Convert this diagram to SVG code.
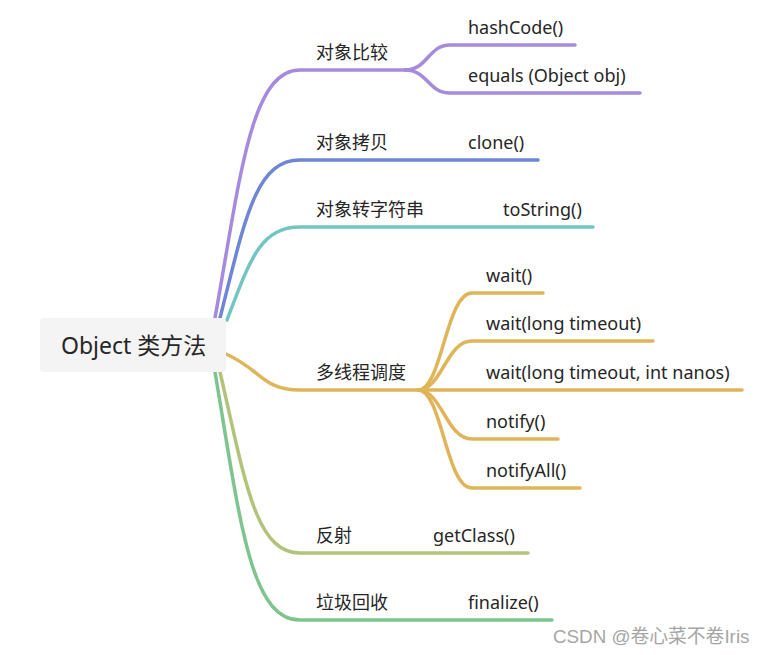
<svg xmlns="http://www.w3.org/2000/svg" width="766" height="655" viewBox="0 0 766 655">
<style>
.t{font-family:"Noto Sans","Noto Sans CJK SC",sans-serif;font-size:18px;fill:#262626}
.r{font-family:"Noto Sans","Noto Sans CJK SC",sans-serif;font-size:23px;fill:#262626}
.c{fill:none;stroke-width:3.5;stroke-linecap:round}
.p{stroke:#a68ade}.b{stroke:#6e86d6}.tl{stroke:#72c6c2}.g{stroke:#e0b55a}.o{stroke:#b3c47a}.gr{stroke:#7dc48e}
.w{font-family:"Liberation Sans","Noto Sans CJK SC",sans-serif;font-size:18.8px;fill:#a6a6a6}
</style>
<rect width="766" height="655" fill="#fff"/>
<g id="connectors">
<path class="c p" d="M215,318 C240,180 250,70 300,70 L405,70"/>
<path class="c p" d="M405,70 C428,70 428,45 450,45 L575,45"/>
<path class="c p" d="M405,70 C428,70 428,93 450,93 L640,93"/>
<path class="c b" d="M220,318 C245,220 255,160 300,160 L538,160"/>
<path class="c tl" d="M227,320 C250,260 260,227 300,227 L593,227"/>
<path class="c g" d="M226,354 C262,370 262,390 300,390 L742,390"/>
<path class="c g" d="M418,390 C442,390 446,293 472,293 L543,293"/>
<path class="c g" d="M418,390 C442,390 446,341 472,341 L653,341"/>
<path class="c g" d="M418,390 C442,390 446,439 472,439 L558,439"/>
<path class="c g" d="M418,390 C442,390 446,488 472,488 L580,488"/>
<path class="c o" d="M220,372 C245,480 255,553 300,553 L528,553"/>
<path class="c gr" d="M215,372 C240,520 250,620 300,620 L552,620"/>
</g>
<g id="root">
<rect x="40" y="318" width="186" height="54" rx="4" fill="#f4f4f4"/>
<text class="r" x="61" y="354">Object 类方法</text>
</g>
<g id="n-compare"><text class="t" x="316" y="59">对象比较</text></g>
<g id="n-hashcode"><text class="t" x="468" y="34">hashCode()</text></g>
<g id="n-equals"><text class="t" x="468" y="82">equals (Object obj)</text></g>
<g id="n-copy"><text class="t" x="316" y="149">对象拷贝</text></g>
<g id="n-clone"><text class="t" x="468" y="149">clone()</text></g>
<g id="n-tostr"><text class="t" x="316" y="216">对象转字符串</text></g>
<g id="n-tostring"><text class="t" x="503" y="216">toString()</text></g>
<g id="n-thread"><text class="t" x="316" y="379">多线程调度</text></g>
<g id="n-wait"><text class="t" x="486" y="282">wait()</text></g>
<g id="n-wait1"><text class="t" x="486" y="330">wait(long timeout)</text></g>
<g id="n-wait2"><text class="t" x="486" y="379">wait(long timeout, int nanos)</text></g>
<g id="n-notify"><text class="t" x="486" y="428">notify()</text></g>
<g id="n-notifyall"><text class="t" x="486" y="477">notifyAll()</text></g>
<g id="n-reflect"><text class="t" x="316" y="542">反射</text></g>
<g id="n-getclass"><text class="t" x="433" y="542">getClass()</text></g>
<g id="n-gc"><text class="t" x="316" y="609">垃圾回收</text></g>
<g id="n-finalize"><text class="t" x="468" y="609">finalize()</text></g>
<text class="w" x="553" y="643">CSDN @卷心菜不卷Iris</text>
</svg>
